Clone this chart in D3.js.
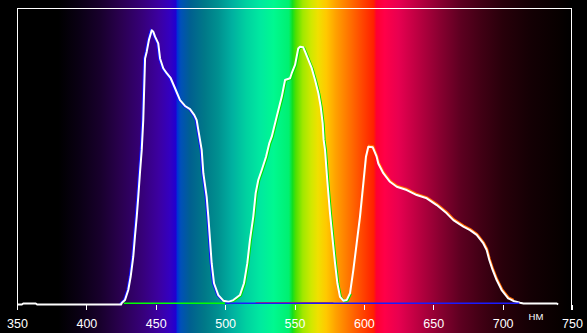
<!DOCTYPE html>
<html>
<head>
<meta charset="utf-8">
<script src="https://cdn.jsdelivr.net/npm/d3@7"></script>
<style>
html,body{margin:0;padding:0;background:#000;}
svg{display:block;}
</style>
</head>
<body>
<svg id="chart" width="587" height="333"></svg>
<script>
// ---- data ----
const wavelengths = [350,353.5,354.5,363.5,364.5,425,425.5,427.8,430.2,431.9,433.8,435.0,436.3,437.4,438.6,439.9,441.0,442.3,443.5,445.1,447.1,448.2,449.5,451.8,453.1,455.4,457.9,460.8,463.9,467.5,471.1,474.7,477.8,479.5,480.7,483.1,484.3,486.7,487.9,489.1,490.3,492.0,495.1,498.7,502.3,505.9,510.7,513.6,516.0,517.9,520.3,522.0,523.9,526.4,529.5,531.8,533.6,537.2,540.8,543.2,546.8,548.0,550.4,552.7,554.0,556.3,557.6,560.0,562.4,564.8,567.2,568.9,570.3,571.0,572.0,573.6,575.6,577.5,579.2,580.9,582.8,585.2,587.6,590.0,592.4,594.8,597.2,599.6,601.5,603.2,606.4,609.2,610.4,614.0,618.8,623.7,630.9,638.1,645.3,652.5,659.7,664.5,671.7,676.5,681.3,686.1,688.5,690.4,692.8,695.7,699.3,704.0,707.7,712.5,715,739,740];
const intensity   = [0,0,0.35,0.35,0,0,0.5,1.5,4.9,9.4,16.2,23.0,29.8,36.5,44.5,52.4,62.5,83.4,85.7,89.7,93.0,92.5,90.8,88.5,83.4,80.1,78.4,76.7,73.3,69.3,67.3,66.2,64.2,62.5,59.1,52.4,44.5,36.5,29.8,21.9,14.0,7.2,3.2,1.3,0.9,1.5,3.2,7.2,14.0,21.9,29.8,37.7,42.2,45.6,50.1,54.6,56.9,63.7,70.4,76.1,76.7,78.4,81.2,86.8,87.4,87.2,85.7,82.9,80.1,76.1,71.6,67.0,61.4,55.8,52.4,42.2,30.9,21.9,14.0,7.2,2.6,1.3,1.5,3.8,11.7,20.7,29.8,41.1,50.1,53.5,53.3,50.1,47.8,44.5,41.6,39.9,38.8,37.1,36.0,33.7,30.9,28.6,26.4,25.2,23.6,20.7,18.5,15.1,11.7,8.3,4.9,2.1,1.2,0.6,0.35,0.35,0];

// colour channel ranges (nm) where each channel's trace is visible
const blueRange  = [425, 500];
const greenRange = [500, 590];
const redRange   = [590, 712];
const greenBase  = [427, 500];
const blueBase   = [500, 712];
const redBase    = [522, 578];

const tickValues = [350,400,450,500,550,600,650,700,750];
const unitLabel = "НМ";

// spectrum gradient stops: wavelength + colour
const specNm  = [350,380,395,410,425,440,452,460,464.5,465.5,468,475,485,495,505,515,525,535,546,548.5,551,556,562,567,573,580,590,600,607,609,615,625,640,655,670,685,700,720,740,750];
const specCol = ["#000000","#000000","#0a0014","#18002c","#2a0050","#360078","#3c00a0","#3400c0","#2000d0","#0030d8","#0050b8","#006090","#007888","#009090","#00b0a0","#00d0a0","#00e8a0","#00f890","#00f070","#10e020","#50e000","#a0e800","#d0e800","#f0e000","#ffc800","#ffa000","#ff7000","#ff4000","#ff2000","#ff0030","#ff0048","#e80050","#b80040","#880030","#5c0020","#400014","#28000a","#140004","#080000","#000000"];

// ---- drawing ----
const W = 587, H = 333;
const svg = d3.select("#chart");
const x = d3.scaleLinear().domain([350,750]).range([17,572]);
const y = d3.scaleLinear().domain([0,100]).range([304.5,9.5]);

const defs = svg.append("defs");
const grad = defs.append("linearGradient")
  .attr("id","spec").attr("gradientUnits","userSpaceOnUse")
  .attr("x1", x(350)).attr("x2", x(750)).attr("y1",0).attr("y2",0);
specNm.forEach((nm,i)=>{
  grad.append("stop").attr("offset",(nm-350)/400).attr("stop-color",specCol[i]);
});

svg.append("rect").attr("width",W).attr("height",H).attr("fill","#000");
svg.append("rect").attr("x",x(350)).attr("y",0).attr("width",x(750)-x(350)).attr("height",H).attr("fill","url(#spec)");

const pts = wavelengths.map((w,i)=>[w,intensity[i]]);
const line = d3.line().x(d=>x(d[0])).y(d=>y(d[1]));
const inRange = r => pts.filter(d=>d[0]>=r[0] && d[0]<=r[1]);

// coloured channel traces (slightly offset, beneath the white curve)
const g = svg.append("g");
g.append("path").attr("d",line(inRange(redRange))).attr("fill","none")
  .attr("stroke","#ff6a00").attr("stroke-width",2).attr("transform","translate(0.5,-1)");
g.append("path").attr("d",line(inRange(greenRange))).attr("fill","none")
  .attr("stroke","#00e000").attr("stroke-width",2).attr("transform","translate(1,0.5)");
g.append("path").attr("d",line(inRange(blueRange))).attr("fill","none")
  .attr("stroke","#1010ff").attr("stroke-width",2).attr("transform","translate(-1,0)");

// white curve
svg.append("path").attr("d",line(pts)).attr("fill","none")
  .attr("stroke","#fff").attr("stroke-width",2).attr("stroke-linejoin","round");

// coloured baselines
const base = (r,col,yy,sw)=>svg.append("line")
  .attr("x1",x(r[0])).attr("x2",x(r[1])).attr("y1",yy).attr("y2",yy)
  .attr("stroke",col).attr("stroke-width",sw);
base(redBase,"#e05000",302.5,1);
base(greenBase,"#00ff00",303.25,1.5);
base(blueBase,"#1a1aff",303.25,1.5);

// frame: top, left, right
const frame = svg.append("g").attr("stroke","#fff").attr("stroke-width",1).attr("shape-rendering","crispEdges");
frame.append("line").attr("x1",x(350)).attr("x2",x(750)).attr("y1",8.5).attr("y2",8.5);
frame.append("line").attr("x1",x(350)+0.5).attr("x2",x(350)+0.5).attr("y1",8).attr("y2",310);
frame.append("line").attr("x1",x(750)-0.5).attr("x2",x(750)-0.5).attr("y1",8).attr("y2",310);

// axis ticks + labels
const axis = d3.axisBottom(x).tickValues(tickValues).tickSize(5).tickPadding(9).tickSizeOuter(0);
const ax = svg.append("g").attr("transform","translate(0,305)").call(axis);
ax.select(".domain").remove();
ax.selectAll(".tick line").attr("stroke","#fff").attr("shape-rendering","crispEdges");
ax.selectAll(".tick text").attr("fill","#fff")
  .style("font-family","'Liberation Sans', Arial, sans-serif").style("font-size","12.5px");

svg.append("text").attr("x",536).attr("y",320).attr("text-anchor","middle")
  .attr("fill","#fff").style("font-family","'Liberation Sans', Arial, sans-serif")
  .style("font-size","9.5px").text(unitLabel);
</script>
</body>
</html>
